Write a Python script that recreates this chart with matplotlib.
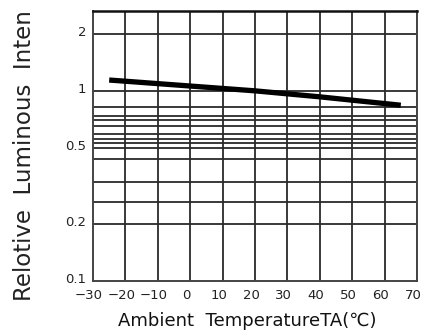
import numpy as np
import matplotlib
matplotlib.use("Agg")
import matplotlib.pyplot as plt
from matplotlib.transforms import ScaledTranslation

# Data
temperature = [-25, 0, 20, 40, 65]
intensity = [1.14, 1.06, 1.0, 0.93, 0.84]

x_ticks = [-30, -20, -10, 0, 10, 20, 30, 40, 50, 60, 70]
y_ticks = [0.1, 0.2, 0.5, 1, 2]
y_tick_labels = ["0.1", "0.2", "0.5", "1", "2"]
y_grid = [0.2, 0.26, 0.33, 0.44, 0.5, 0.53, 0.56, 0.59, 0.65, 0.7, 0.74, 0.82, 1, 2]

fig = plt.figure(figsize=(4.24, 3.33), dpi=100)
ax = fig.add_axes([0.2193, 0.1562, 0.7642, 0.8108])

ax.set_yscale("log")
ax.set_xlim(-30, 70)
ax.set_ylim(0.1, 2.63)

grid_color = "#2a2a2a"
for v in y_grid:
    ax.axhline(v, color=grid_color, lw=1.3, zorder=1)
for t in x_ticks[1:]:
    ax.axvline(t, color=grid_color, lw=1.3, zorder=1)

ax.plot(temperature, intensity, color="black", lw=3.8, solid_capstyle="butt", zorder=3)

ax.set_xticks(x_ticks)
ax.set_xticklabels([str(t) if t >= 0 else "\u2212" + str(-t) for t in x_ticks])
ax.set_yticks(y_ticks)
ax.set_yticklabels(y_tick_labels)
ax.yaxis.set_minor_locator(matplotlib.ticker.NullLocator())
ax.tick_params(axis="both", length=0, labelsize=9.5, colors="#222222")
ax.tick_params(axis="x", pad=6)
ax.tick_params(axis="y", pad=5)

# labels in the original sit a little off their grid lines
xshift = ScaledTranslation(-4 / 100, 0, fig.dpi_scale_trans)
for lab in ax.get_xticklabels():
    lab.set_transform(lab.get_transform() + xshift)
yshift = ScaledTranslation(0, 3 / 100, fig.dpi_scale_trans)
for lab in ax.get_yticklabels():
    lab.set_transform(lab.get_transform() + yshift)

for side in ["left", "bottom", "right"]:
    ax.spines[side].set_color("#444444")
    ax.spines[side].set_linewidth(1.4)
ax.spines["top"].set_color("#111111")
ax.spines["top"].set_linewidth(1.8)

fig.text(247 / 424, 1 - 321 / 333, "Ambient  TemperatureTA(\u2103)",
         ha="center", va="center", fontsize=13, color="#111111")
# the reference image crops this label at "Inten"
fig.text(25 / 424, 1 - 301 / 333, "Relotive  Luminous  Inten",
         ha="center", va="bottom", rotation=90, fontsize=16.5, color="#222222")

fig.savefig("out.png", dpi=100)
